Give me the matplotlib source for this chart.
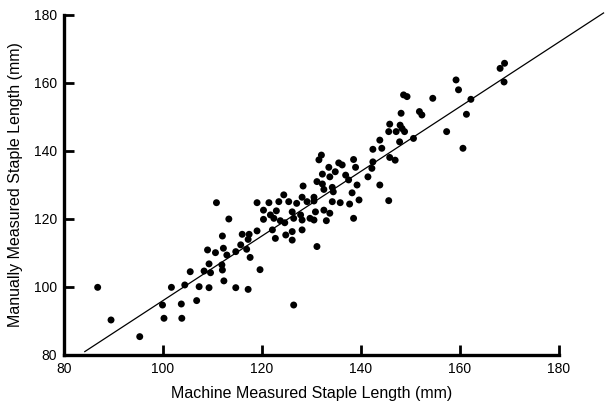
import matplotlib
matplotlib.use("Agg")
import matplotlib.pyplot as plt

plt.rcParams['font.family'] = ['Liberation Sans', 'DejaVu Sans']

# staple length pairs (mm): machine reading vs. manual reading
machine = [86.8, 89.5, 95.3, 99.9, 100.2, 101.7, 103.8, 103.7, 104.4, 105.5,
           106.8, 107.3, 110.8, 119.0, 113.3, 112.0, 116.0, 117.4, 117.2, 119.0,
           109.0, 110.6, 112.2, 112.9, 114.7, 115.7, 116.9, 117.6, 109.3, 108.3,
           109.6, 112.0, 111.9, 112.3, 119.6, 109.3, 114.7, 117.2,
           121.4, 123.4, 125.4, 127.0, 129.1, 130.5, 134.2, 135.8, 137.7, 120.3,
           121.7, 122.9, 122.4, 120.3, 123.7, 124.6, 126.1, 126.4, 127.8, 128.1,
           129.7, 130.5, 130.8, 132.5, 133.7, 133.0, 138.5, 122.1, 124.8, 126.1,
           128.1, 122.7, 126.1, 131.1, 126.4,
           132.0, 131.5, 133.5, 135.5, 136.2, 138.5, 138.9, 134.8, 132.2, 133.7,
           136.9, 137.5, 128.3, 131.1, 132.2, 132.5, 134.2, 134.4, 138.2, 139.2,
           124.4, 128.1, 130.5, 139.6,
           148.6, 149.3, 154.5, 159.7, 148.1, 151.8, 152.3, 145.8, 147.9, 148.3,
           145.6, 147.1, 148.8, 157.3, 150.6, 143.8, 147.8, 142.4, 144.2, 145.8,
           146.9, 142.4, 142.2, 141.4, 143.8, 145.6,
           159.2, 168.1, 169.0, 168.9, 162.2, 161.3, 160.6]
manual = [99.9, 90.3, 85.4, 94.7, 90.8, 99.9, 90.8, 95.0, 100.6, 104.5,
          96.0, 100.1, 124.8, 124.8, 120.0, 115.0, 115.5, 115.5, 114.0, 116.5,
          110.9, 110.1, 111.4, 109.4, 110.4, 112.4, 111.1, 108.7, 106.8, 104.7,
          104.2, 105.0, 106.5, 101.8, 105.1, 99.8, 99.8, 99.3,
          124.8, 125.1, 125.1, 124.6, 125.1, 125.3, 125.1, 124.8, 124.4, 122.6,
          121.2, 122.4, 120.2, 119.9, 119.5, 118.9, 122.1, 120.2, 121.2, 119.7,
          120.2, 119.7, 122.1, 122.6, 121.7, 119.5, 120.2, 116.8, 115.3, 116.3,
          116.8, 114.3, 113.8, 111.9, 94.7,
          138.8, 137.4, 135.2, 136.5, 135.9, 137.5, 135.2, 133.9, 133.2, 132.4,
          132.9, 131.5, 129.7, 131.0, 130.3, 128.7, 129.3, 128.0, 127.7, 130.0,
          127.1, 126.4, 126.4, 125.6,
          156.5, 156.0, 155.5, 158.0, 151.1, 151.6, 150.6, 147.9, 147.6, 146.6,
          145.7, 145.7, 145.7, 145.7, 143.7, 143.2, 142.7, 140.5, 140.8, 138.1,
          137.3, 136.8, 134.9, 132.4, 130.0, 125.4,
          160.9, 164.3, 165.8, 160.3, 155.2, 150.8, 140.8]

# fitted line end points
fit_x = [84.2, 189.0]
fit_y = [81.0, 180.6]

ticks = [80, 100, 120, 140, 160, 180]

fig = plt.figure(figsize=(6.06, 4.09), dpi=100)
ax = fig.add_axes([64 / 606, 54 / 409, 495 / 606, 340 / 409])

ax.scatter(machine, manual, s=25, c='black', edgecolors='none', zorder=3)
ax.plot(fit_x, fit_y, color='black', lw=0.9, clip_on=False)

ax.set_xlim(80, 180)
ax.set_ylim(80, 180)
ax.set_xticks(ticks)
ax.set_yticks(ticks)

for side in ['top', 'right']:
    ax.spines[side].set_visible(False)
for side in ['left', 'bottom']:
    ax.spines[side].set_linewidth(2.4)

ax.tick_params(direction='in', length=7, width=2, labelsize=10, pad=5)
ax.set_xlabel('Machine Measured Staple Length (mm)', fontsize=11.5, labelpad=7)
ax.set_ylabel('Manually Measured Staple Length (mm)', fontsize=11.5, labelpad=8)

fig.savefig('out.png', dpi=100)
